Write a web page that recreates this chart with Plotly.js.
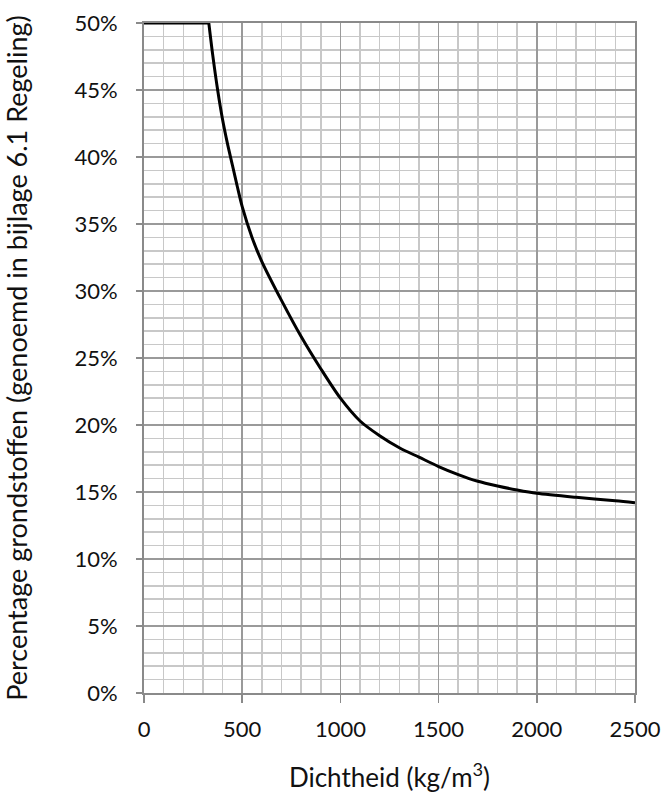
<!DOCTYPE html>
<html>
<head>
<meta charset="utf-8">
<script src="https://cdn.plot.ly/plotly-3.0.1.min.js"></script>
<style>html,body{margin:0;padding:0;background:#fff;}#chart{width:667px;height:803px;}</style>
</head>
<body>
<div id="chart"></div>
<script>
// Flat section (cap at 50%)
const flatDensity = [0, 330];
const flatPercentage = [50, 50];
// Decreasing section
const density = [330, 350, 375, 400, 425, 450, 475, 500, 550, 600, 700, 800, 900, 1000, 1100, 1200, 1300, 1400, 1500, 1600, 1700, 1800, 1900, 2000, 2200, 2400, 2500];
const percentage = [50, 47.6, 45.0, 42.8, 41.0, 39.4, 37.8, 36.3, 34.0, 32.2, 29.3, 26.6, 24.2, 22.0, 20.3, 19.2, 18.3, 17.6, 16.9, 16.3, 15.8, 15.45, 15.15, 14.9, 14.6, 14.35, 14.2];
const xTicks = [0, 500, 1000, 1500, 2000, 2500];
const yTicks = [0, 5, 10, 15, 20, 25, 30, 35, 40, 45, 50];
const xTitle = 'Dichtheid (kg/m<sup>3</sup>)';
const yTitle = 'Percentage grondstoffen (genoemd in bijlage 6.1 Regeling)';

const font = 'Lato, "Open Sans", sans-serif';

const lineStyle = {color: '#000', width: 3};

Plotly.newPlot('chart', [{
  x: flatDensity, y: flatPercentage, type: 'scatter', mode: 'lines',
  line: Object.assign({}, lineStyle), cliponaxis: false, hoverinfo: 'skip'
}, {
  x: density, y: percentage, type: 'scatter', mode: 'lines',
  line: Object.assign({shape: 'spline', smoothing: 0.8}, lineStyle),
  cliponaxis: false, hoverinfo: 'skip'
}], {
  width: 667, height: 803,
  margin: {l: 144, r: 32, t: 23, b: 110},
  paper_bgcolor: '#fff', plot_bgcolor: '#fff',
  showlegend: false,
  font: {family: font, color: '#000', size: 20},
  xaxis: {
    range: [0, 2500], tickvals: xTicks, ticktext: xTicks.map(String),
    showgrid: true, gridcolor: '#9a9a9a', gridwidth: 1.5,
    minor: {dtick: 100, showgrid: true, gridcolor: '#c8c8c8', gridwidth: 1.5},
    showline: true, linecolor: '#8a8a8a', linewidth: 2, mirror: true,
    ticks: 'outside', ticklen: 8, tickcolor: '#8a8a8a', tickwidth: 1.5,
    ticklabelstandoff: 8,
    tickfont: {family: font, size: 22, color: '#111'},
    zeroline: false,
    title: {text: xTitle, font: {family: font, size: 26, color: '#111'}, standoff: 27}
  },
  yaxis: {
    range: [0, 50], tickvals: yTicks, ticktext: yTicks.map(v => v + '%'),
    showgrid: true, gridcolor: '#9a9a9a', gridwidth: 1.5,
    minor: {dtick: 1, showgrid: true, gridcolor: '#c8c8c8', gridwidth: 1.5},
    showline: true, linecolor: '#8a8a8a', linewidth: 2, mirror: true,
    ticks: 'outside', ticklen: 6, tickcolor: '#8a8a8a', tickwidth: 1.5,
    ticklabelstandoff: 14,
    tickfont: {family: font, size: 22, color: '#111'},
    zeroline: false,
    title: {text: yTitle, font: {family: font, size: 27, color: '#111'}, standoff: 42}
  }
}, {staticPlot: true});
</script>
</body>
</html>
